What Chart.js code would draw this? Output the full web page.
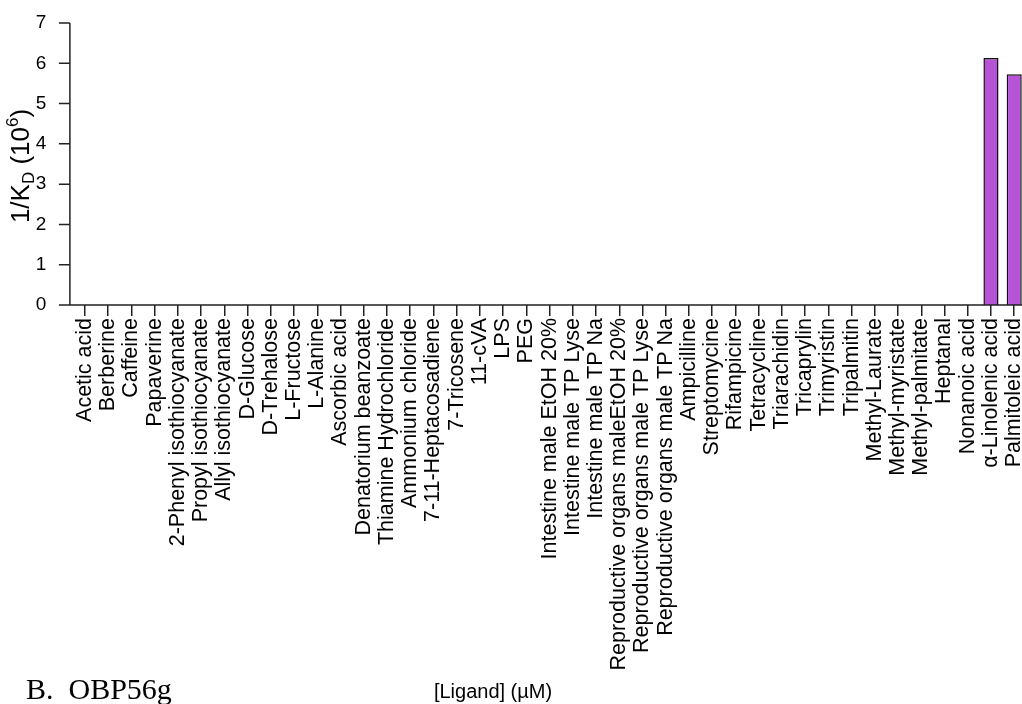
<!DOCTYPE html>
<html>
<head>
<meta charset="utf-8">
<script src="https://cdn.jsdelivr.net/npm/chart.js@4.4.1/dist/chart.umd.min.js"></script>
<style>
  html, body { margin: 0; padding: 0; background: #fff; overflow: hidden; }
  #wrap { position: relative; width: 1042px; height: 704px; }
</style>
</head>
<body>
<div id="wrap"><canvas id="bindChart"></canvas></div>
<script>
// ligands tested against OBP56g
const ligands = [
  'Acetic acid', 'Berberine', 'Caffeine', 'Papaverine', '2-Phenyl isothiocyanate',
  'Propyl isothiocyanate', 'Allyl isothiocyanate', 'D-Glucose', 'D-Trehalose', 'L-Fructose',
  'L-Alanine', 'Ascorbic acid', 'Denatorium beanzoate', 'Thiamine Hydrochloride', 'Ammonium chloride',
  '7-11-Heptacosadiene', '7-Tricosene', '11-cVA', 'LPS', 'PEG',
  'Intestine male EtOH 20%', 'Intestine male TP Lyse', 'Intestine male TP Na',
  'Reproductive organs maleEtOH 20%', 'Reproductive organs male TP Lyse', 'Reproductive organs male TP Na',
  'Ampicilline', 'Streptomycine', 'Rifampicine', 'Tetracycline', 'Triarachidin',
  'Tricaprylin', 'Trimyristin', 'Tripalmitin', 'Methyl-Laurate', 'Methyl-myristate',
  'Methyl-palmitate', 'Heptanal', 'Nonanoic acid', '\u03B1-Linolenic acid', 'Palmitoleic acid'
];

// 1/KD in units of 10^6
const affinity = [
  0, 0, 0, 0, 0, 0, 0, 0, 0, 0,
  0, 0, 0, 0, 0, 0, 0, 0, 0, 0,
  0, 0, 0, 0, 0, 0, 0, 0, 0, 0,
  0, 0, 0, 0, 0, 0, 0, 0, 0, 6.13, 5.73
];

const yMin = 0;
const yMax = 7;
const yStep = 1;

const FONT = "'Liberation Sans', Arial, sans-serif";

// axis lines, y ticks and the free text around the plot
const decorations = {
  id: 'decorations',
  afterDraw(chart) {
    const { ctx, chartArea } = chart;
    const y = chart.scales.y;
    const axisX = chartArea.left - 3.5;
    const y0 = y.getPixelForValue(yMin);
    const yTop = y.getPixelForValue(yMax);

    ctx.save();
    ctx.strokeStyle = '#222';
    ctx.lineWidth = 1.5;
    ctx.beginPath();
    ctx.moveTo(axisX, yTop);
    ctx.lineTo(axisX, y0);
    ctx.lineTo(chart.width, y0);
    for (let v = yMin; v <= yMax; v += yStep) {
      const py = y.getPixelForValue(v);
      ctx.moveTo(axisX - 11, py);
      ctx.lineTo(axisX, py);
    }
    ctx.stroke();

    // y title: 1/K_D (10^6)
    ctx.translate(29, 166);
    ctx.rotate(-Math.PI / 2);
    ctx.fillStyle = '#000';
    ctx.textBaseline = 'alphabetic';
    const big = '26px ' + FONT;
    const small = '17px ' + FONT;
    const parts = [
      { t: '1/K', f: big, dy: 0 },
      { t: 'D', f: small, dy: 5 },
      { t: ' (10', f: big, dy: 0 },
      { t: '6', f: small, dy: -11 },
      { t: ')', f: big, dy: 0 }
    ];
    let total = 0;
    parts.forEach(p => { ctx.font = p.f; p.w = ctx.measureText(p.t).width; total += p.w; });
    let cx = -total / 2;
    parts.forEach(p => {
      ctx.font = p.f;
      ctx.fillText(p.t, cx, p.dy);
      cx += p.w;
    });
    ctx.restore();

    ctx.save();
    ctx.fillStyle = '#000';
    ctx.textBaseline = 'alphabetic';
    ctx.font = '20px ' + FONT;
    ctx.textAlign = 'center';
    ctx.fillText('[Ligand] (\u00B5M)', 493, 698);
    ctx.textAlign = 'left';
    ctx.font = '30px "Liberation Serif", "Times New Roman", serif';
    ctx.fillText('B.  OBP56g', 26, 699);
    ctx.restore();
  }
};

new Chart(document.getElementById('bindChart'), {
  type: 'bar',
  data: {
    labels: ligands,
    datasets: [{
      data: affinity,
      backgroundColor: '#B653D6',
      borderColor: '#111',
      borderWidth: 1.5,
      borderSkipped: 'bottom',
      barPercentage: 0.65,
      categoryPercentage: 1
    }]
  },
  options: {
    responsive: true,
    maintainAspectRatio: false,
    animation: false,
    layout: { padding: { top: 23, right: 0, left: 0, bottom: 0 } },
    plugins: {
      legend: { display: false },
      tooltip: { enabled: false }
    },
    scales: {
      x: {
        offset: true,
        afterFit: s => { s.height = 704 - 305; },
        grid: {
          offset: false,
          drawOnChartArea: false,
          drawTicks: true,
          tickLength: 11,
          color: '#222',
          lineWidth: 1.5
        },
        border: { display: false },
        ticks: {
          autoSkip: false,
          minRotation: 90,
          maxRotation: 90,
          padding: 2,
          color: '#000',
          font: { family: FONT, size: 21.5 }
        }
      },
      y: {
        min: yMin,
        max: yMax,
        afterFit: s => { s.width = 73.4; s.paddingTop = 0; s.paddingBottom = 0; },
        grid: { display: false },
        border: { display: false },
        ticks: {
          stepSize: yStep,
          padding: 19,
          color: '#000',
          font: { family: FONT, size: 19 }
        }
      }
    }
  },
  plugins: [decorations]
});
</script>
</body>
</html>
